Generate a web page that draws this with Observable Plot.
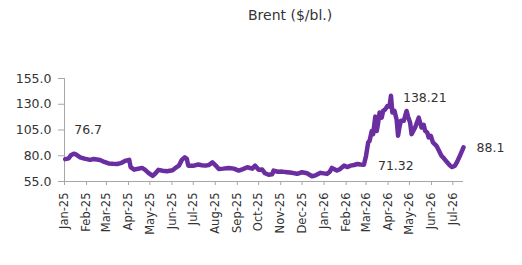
<!DOCTYPE html>
<html>
<head>
<meta charset="utf-8">
<script src="https://cdn.jsdelivr.net/npm/d3@7"></script>
<script src="https://cdn.jsdelivr.net/npm/@observablehq/plot@0.6"></script>
<style>
  html, body { margin: 0; padding: 0; background: #fff; overflow: hidden; }
  #wrap { position: relative; width: 522px; height: 265px; }
  #title { position: absolute; left: 248px; top: 7px; font-family: "DejaVu Sans", sans-serif; font-size: 14px; color: #333; white-space: nowrap; }
  #chart { position: absolute; left: 0; top: 0; }
</style>
</head>
<body>
<div id="wrap">
  <div id="chart"></div>
  <div id="title">Brent ($/bl.)</div>
</div>
<script>
const dates = [
  "2025-01-02","2025-01-07","2025-01-10","2025-01-14","2025-01-17","2025-01-23","2025-01-29",
  "2025-02-06","2025-02-11","2025-02-20","2025-02-26","2025-03-04","2025-03-10","2025-03-16",
  "2025-03-21","2025-03-27","2025-04-02","2025-04-04","2025-04-09","2025-04-13","2025-04-20",
  "2025-04-24","2025-04-29","2025-05-05","2025-05-09","2025-05-13","2025-05-19","2025-05-25",
  "2025-06-02","2025-06-06","2025-06-11","2025-06-15","2025-06-19","2025-06-22","2025-06-24",
  "2025-07-02","2025-07-08","2025-07-13","2025-07-18","2025-07-23","2025-07-28","2025-08-01",
  "2025-08-06","2025-08-12","2025-08-20","2025-08-27","2025-09-03","2025-09-09","2025-09-15",
  "2025-09-22","2025-09-26","2025-10-01","2025-10-06","2025-10-10","2025-10-15","2025-10-20",
  "2025-10-22","2025-10-28","2025-11-03","2025-11-10","2025-11-17","2025-11-24","2025-12-01",
  "2025-12-08","2025-12-15","2025-12-20","2025-12-27",
  "2026-01-05","2026-01-09","2026-01-12","2026-01-19","2026-01-23","2026-01-29","2026-02-03",
  "2026-02-07","2026-02-12","2026-02-17","2026-02-21","2026-02-26","2026-03-01","2026-03-04",
  "2026-03-06","2026-03-09","2026-03-11","2026-03-14","2026-03-16","2026-03-18","2026-03-20",
  "2026-03-23","2026-03-25","2026-03-28","2026-03-31","2026-04-03","2026-04-05","2026-04-07",
  "2026-04-10","2026-04-13","2026-04-15","2026-04-17","2026-04-19","2026-04-23","2026-04-27",
  "2026-04-29","2026-05-02","2026-05-04","2026-05-09","2026-05-14","2026-05-18","2026-05-21",
  "2026-05-23","2026-05-26","2026-05-28","2026-05-31","2026-06-03","2026-06-08","2026-06-15",
  "2026-06-19","2026-06-23","2026-06-27","2026-06-30","2026-07-04","2026-07-07","2026-07-10",
  "2026-07-13","2026-07-16"
];
const brent = [
  76.7,77.5,80.5,82.0,81.3,78.5,77.2,
  76.0,76.8,75.9,74.0,72.5,72.2,72.0,
  72.8,75.0,76.0,69.0,66.5,67.2,68.2,
  66.5,63.4,60.5,63.0,66.3,65.5,65.0,
  66.0,68.2,70.5,76.0,78.5,77.0,70.4,
  70.4,71.5,70.8,70.4,71.0,73.6,71.0,
  67.2,67.5,68.2,67.5,65.6,67.0,68.8,
  67.5,70.4,66.5,66.6,63.0,61.5,62.0,
  65.6,64.5,64.6,64.0,63.4,62.5,64.0,
  63.0,60.1,61.0,63.4,
  62.4,64.5,68.2,65.6,67.0,70.4,69.0,
  70.4,71.0,72.0,71.5,71.32,80.1,92.9,
  94.6,104.0,101.0,118.0,104.0,112.0,121.9,
  117.0,123.5,125.0,128.3,127.7,138.21,121.9,
  123.5,115.0,99.4,108.0,113.9,113.9,123.5,
  118.0,112.0,101.0,107.4,117.0,107.4,110.0,
  104.2,102.6,97.8,99.4,93.0,89.7,80.1,
  77.0,73.6,70.5,69.0,70.4,74.0,78.5,
  83.3,88.1
];
const yTicks = [55, 80, 105, 130, 155];
const labelDates = ["2025-01-02", "2026-04-05", "2026-02-26", "2026-07-16"];
const labelValues = [76.7, 138.21, 71.32, 88.1];
const labelTexts = ["76.7", "138.21", "71.32", "88.1"];

const data = dates.map((d, i) => ({date: new Date(d), value: brent[i]}));
const labels = labelDates.map((d, i) => ({date: new Date(d), value: labelValues[i], text: labelTexts[i]}));
const x0 = new Date("2025-01-01"), x1 = new Date("2026-07-16");
const monthTicks = d3.utcMonth.range(x0, x1);
const fmt = d3.utcFormat("%b-%y");
const textColor = "#333333", axisColor = "#a6a6a6", lineColor = "#6a2ea0";

const chart = Plot.plot({
  width: 522, height: 265,
  marginLeft: 64, marginRight: 59, marginTop: 78, marginBottom: 84,
  style: {fontFamily: "DejaVu Sans, sans-serif", color: textColor, background: "white", overflow: "visible"},
  x: {type: "utc", domain: [x0, x1]},
  y: {domain: [55, 155]},
  marks: [
    Plot.axisY({ticks: yTicks, tickFormat: d => d.toFixed(1), tickSize: 6, tickPadding: 7, stroke: axisColor, fill: textColor, label: null, fontSize: 12.5}),
    Plot.axisX({ticks: monthTicks, tickFormat: fmt, tickRotate: -90, tickSize: 4, tickPadding: 7, stroke: axisColor, fill: textColor, label: null, fontSize: 11.5}),
    Plot.ruleX([x0], {stroke: axisColor}),
    Plot.ruleY([55], {stroke: axisColor}),
    Plot.line(data, {x: "date", y: "value", stroke: lineColor, strokeWidth: 4.5, strokeLinejoin: "round", strokeLinecap: "round"}),
    Plot.text(labels.slice(0, 1), {x: "date", y: "value", text: "text", textAnchor: "start", dx: 9, dy: -29, fontSize: 12.5, fill: textColor}),
    Plot.text(labels.slice(1, 2), {x: "date", y: "value", text: "text", textAnchor: "start", dx: 12, dy: 2, fontSize: 12.5, fill: textColor}),
    Plot.text(labels.slice(2, 3), {x: "date", y: "value", text: "text", textAnchor: "start", dx: 14, dy: 1, fontSize: 12.5, fill: textColor}),
    Plot.text(labels.slice(3, 4), {x: "date", y: "value", text: "text", textAnchor: "start", dx: 13, dy: 1, fontSize: 12.5, fill: textColor})
  ]
});
document.getElementById("chart").appendChild(chart);
</script>
</body>
</html>
